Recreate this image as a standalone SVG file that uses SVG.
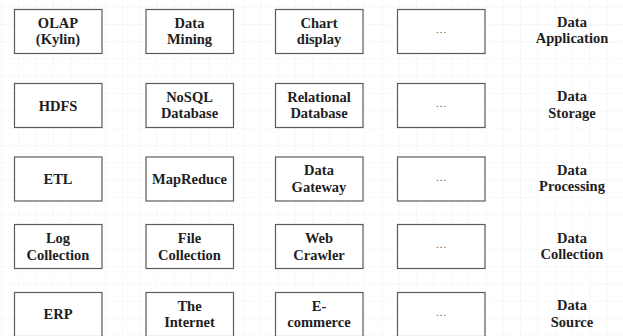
<svg xmlns="http://www.w3.org/2000/svg" width="623" height="336" viewBox="0 0 623 336">
<defs>
<pattern id="grid" x="1" y="6.6" width="17.3" height="17.3" patternUnits="userSpaceOnUse">
<path d="M0 0V17.3M0 0H17.3" fill="none" stroke="#e6e6e6" stroke-width="1" stroke-dasharray="2,1.5"/>
</pattern>
</defs>
<style>
.box{fill:#fff;stroke:#5a5a5a;stroke-width:1.2}
text{font-family:'Liberation Serif','DejaVu Serif',serif}
.t{font-weight:bold;font-size:14.5px;fill:#1e1e1e;text-anchor:middle}
.d{font-size:11px;fill:#555;text-anchor:middle}
</style>
<rect width="623" height="336" fill="#fff"/>
<rect width="623" height="336" fill="url(#grid)"/>
<g id="connectors"></g>

<g id="olap"><rect class="box" x="14.5" y="9.5" width="87.5" height="44"/><text class="t" x="58" y="27.5">OLAP</text><text class="t" x="58" y="44">(Kylin)</text></g>
<g id="mining"><rect class="box" x="146" y="9.5" width="87.5" height="44"/><text class="t" x="189.5" y="27.5">Data</text><text class="t" x="189.5" y="44">Mining</text></g>
<g id="chart"><rect class="box" x="275.5" y="9.5" width="87.5" height="44"/><text class="t" x="319" y="27.5">Chart</text><text class="t" x="319" y="44">display</text></g>
<g id="app-more"><rect class="box" x="397.5" y="9.5" width="87.5" height="44"/><text class="d" x="441" y="33">…</text></g>
<g id="label-app"><text class="t" x="572" y="26.5">Data</text><text class="t" x="572" y="43">Application</text></g>

<g id="hdfs"><rect class="box" x="14.5" y="83.5" width="87.5" height="44"/><text class="t" x="58" y="110.5">HDFS</text></g>
<g id="nosql"><rect class="box" x="146" y="83.5" width="87.5" height="44"/><text class="t" x="189.5" y="101.5">NoSQL</text><text class="t" x="189.5" y="118">Database</text></g>
<g id="relational"><rect class="box" x="275.5" y="83.5" width="87.5" height="44"/><text class="t" x="319" y="101.5">Relational</text><text class="t" x="319" y="118">Database</text></g>
<g id="storage-more"><rect class="box" x="397.5" y="83.5" width="87.5" height="44"/><text class="d" x="441" y="107">…</text></g>
<g id="label-storage"><text class="t" x="572" y="101">Data</text><text class="t" x="572" y="117.5">Storage</text></g>

<g id="etl"><rect class="box" x="14.5" y="157" width="87.5" height="44"/><text class="t" x="58" y="183.5">ETL</text></g>
<g id="mapreduce"><rect class="box" x="146" y="157" width="87.5" height="44"/><text class="t" x="189.5" y="183.5">MapReduce</text></g>
<g id="gateway"><rect class="box" x="275.5" y="157" width="87.5" height="44"/><text class="t" x="319" y="175">Data</text><text class="t" x="319" y="191.5">Gateway</text></g>
<g id="processing-more"><rect class="box" x="397.5" y="157" width="87.5" height="44"/><text class="d" x="441" y="180.5">…</text></g>
<g id="label-processing"><text class="t" x="572" y="174.5">Data</text><text class="t" x="572" y="191">Processing</text></g>

<g id="log"><rect class="box" x="14.5" y="224.5" width="87.5" height="44"/><text class="t" x="58" y="243">Log</text><text class="t" x="58" y="259.5">Collection</text></g>
<g id="file"><rect class="box" x="146" y="224.5" width="87.5" height="44"/><text class="t" x="189.5" y="243">File</text><text class="t" x="189.5" y="259.5">Collection</text></g>
<g id="crawler"><rect class="box" x="275.5" y="224.5" width="87.5" height="44"/><text class="t" x="319" y="243">Web</text><text class="t" x="319" y="259.5">Crawler</text></g>
<g id="collection-more"><rect class="box" x="397.5" y="224.5" width="87.5" height="44"/><text class="d" x="441" y="248">…</text></g>
<g id="label-collection"><text class="t" x="572" y="242.5">Data</text><text class="t" x="572" y="259">Collection</text></g>

<g id="erp"><rect class="box" x="14.5" y="292.5" width="87.5" height="44"/><text class="t" x="58" y="318.5">ERP</text></g>
<g id="internet"><rect class="box" x="146" y="292.5" width="87.5" height="44"/><text class="t" x="189.5" y="310.5">The</text><text class="t" x="189.5" y="327">Internet</text></g>
<g id="ecommerce"><rect class="box" x="275.5" y="292.5" width="87.5" height="44"/><text class="t" x="319" y="310.5">E-</text><text class="t" x="319" y="327">commerce</text></g>
<g id="source-more"><rect class="box" x="397.5" y="292.5" width="87.5" height="44"/><text class="d" x="441" y="316">…</text></g>
<g id="label-source"><text class="t" x="572" y="310">Data</text><text class="t" x="572" y="326.5">Source</text></g>
</svg>
